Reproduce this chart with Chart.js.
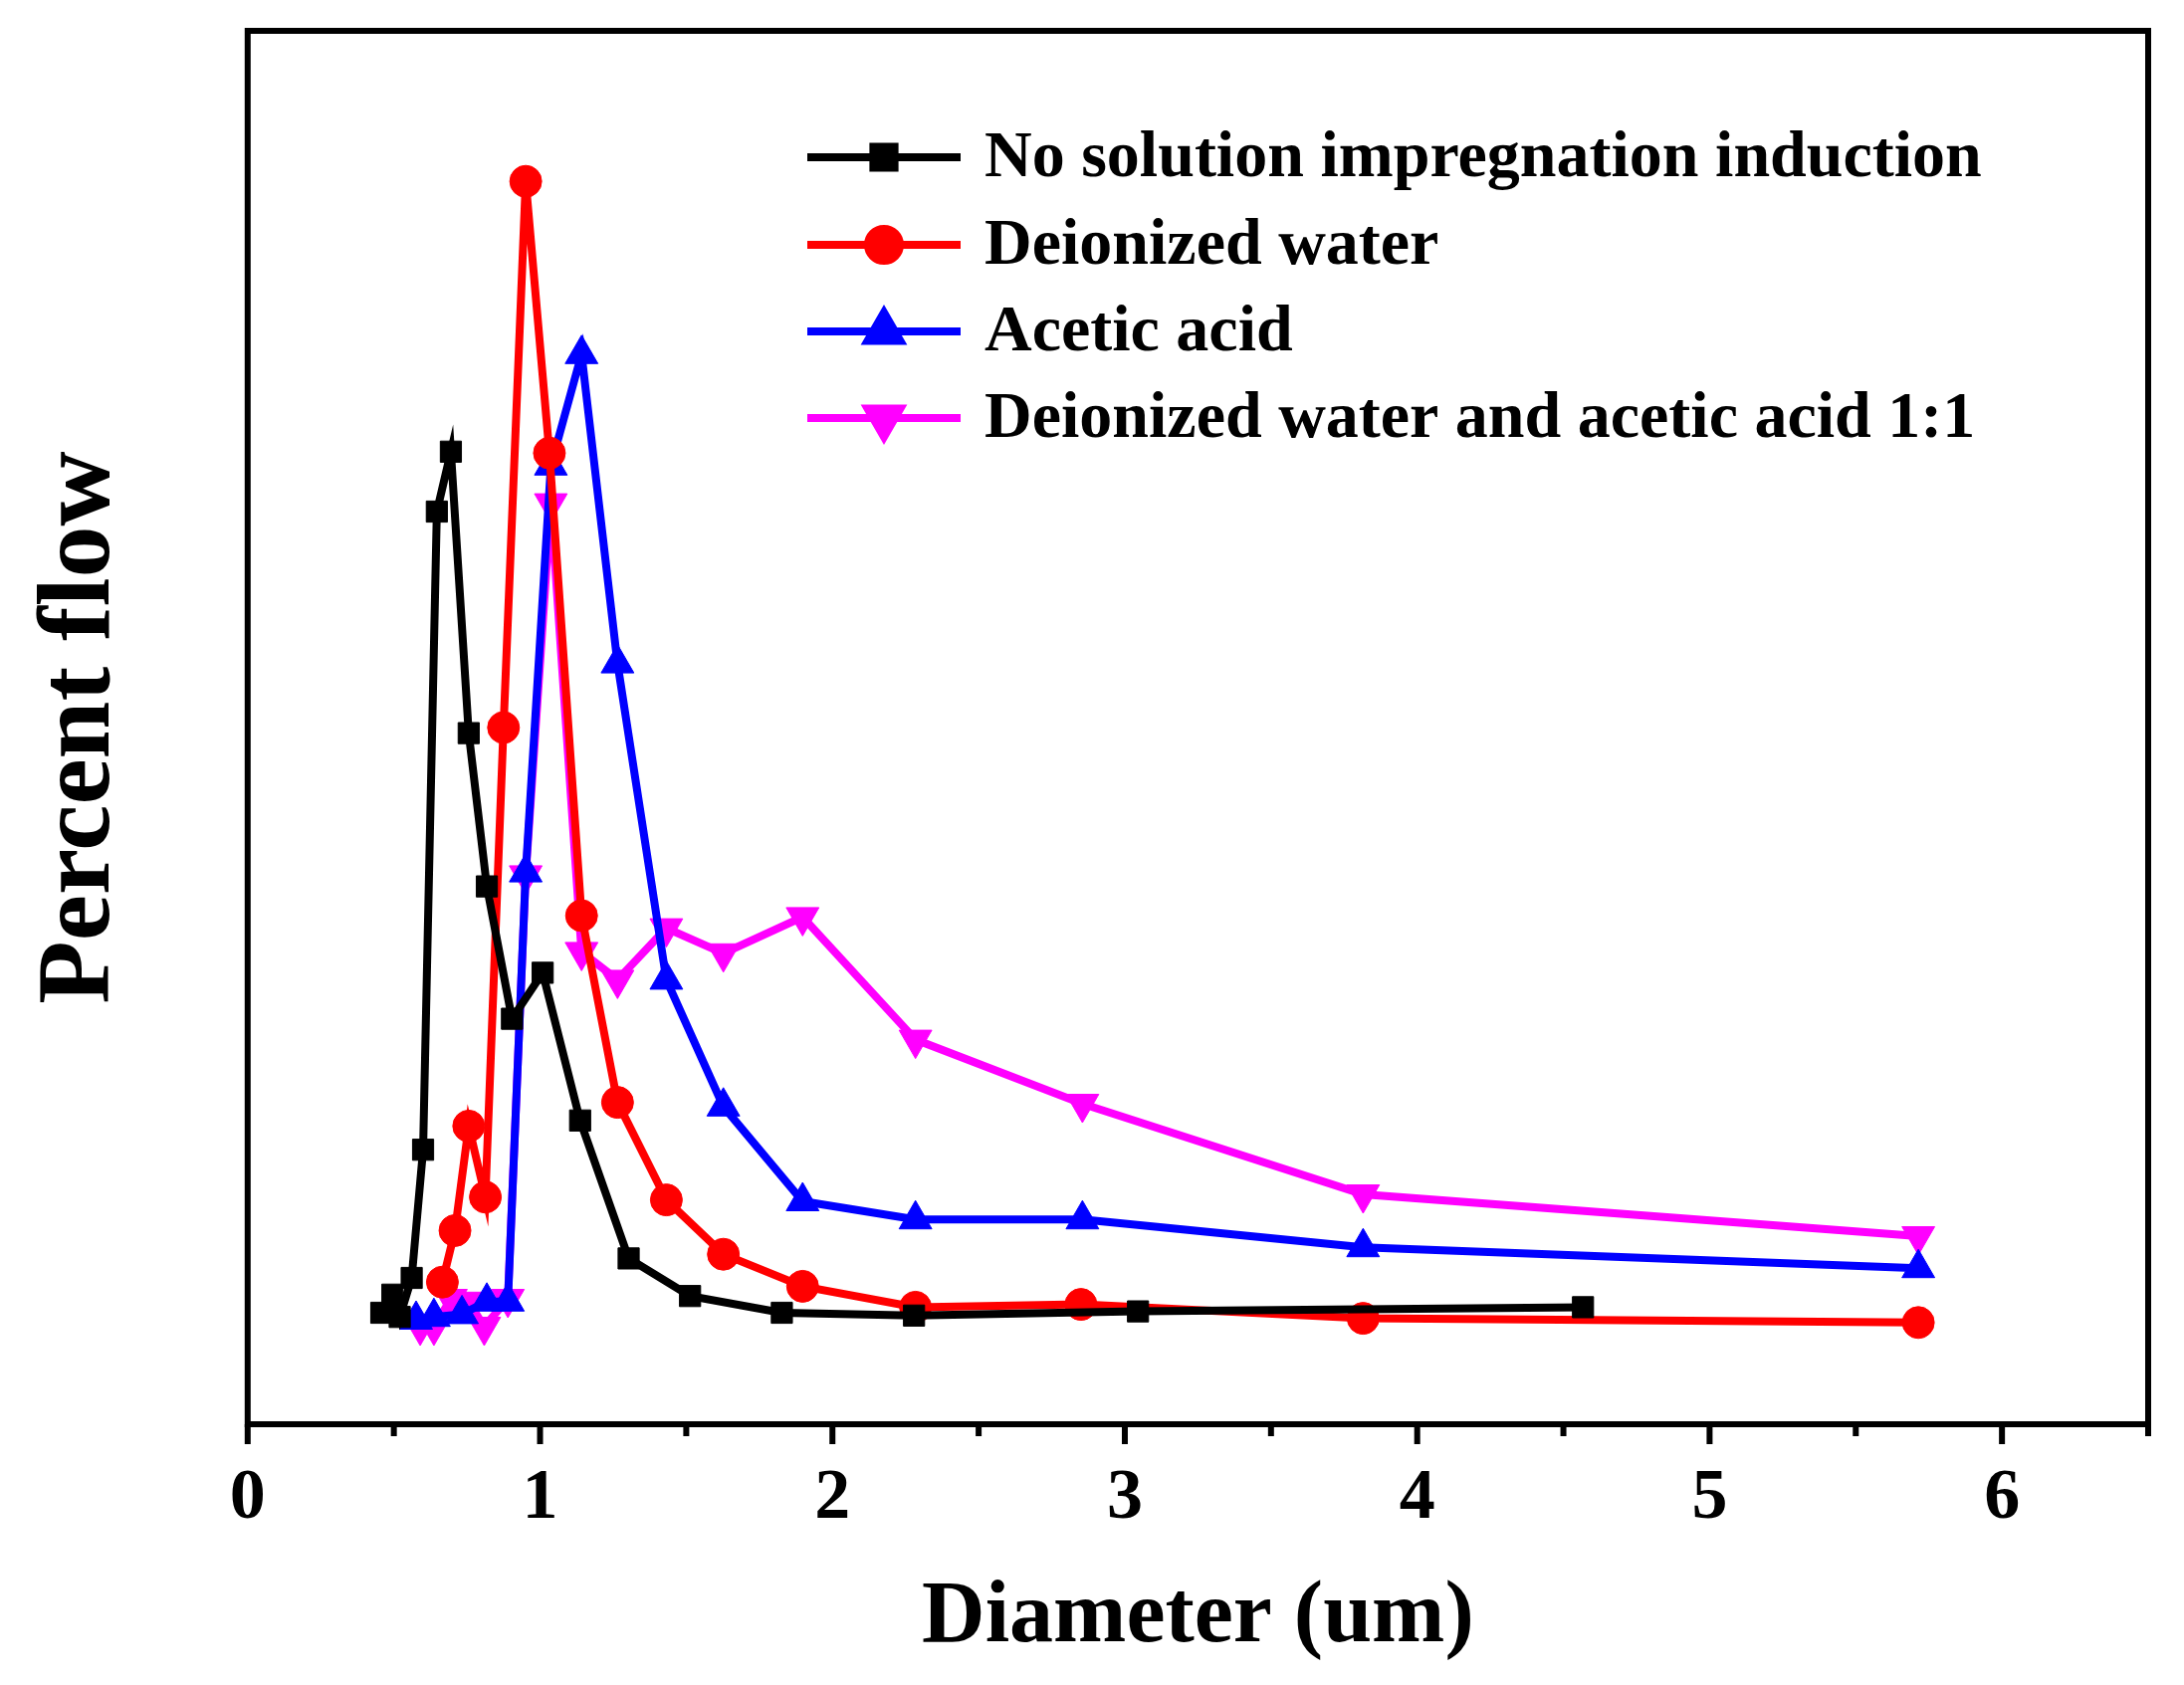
<!DOCTYPE html>
<html><head><meta charset="utf-8">
<script src="https://cdn.jsdelivr.net/npm/chart.js@4/dist/chart.umd.min.js"></script>
<style>html,body{margin:0;background:#fff}#wrap{width:2194px;height:1693px}</style>
</head><body><div id="wrap"><canvas id="c"></canvas></div>
<script>
// 読み取った値 (x: 直径 um, y: 相対値)
const seriesNames = ['No solution impregnation induction','Deionized water','Acetic acid','Deionized water and acetic acid 1:1'];
const blackX = [0.457,0.495,0.52,0.561,0.6,0.647,0.695,0.756,0.818,0.904,1.009,1.137,1.303,1.513,1.827,2.279,3.045,4.567];
const blackY = [8.0,9.3,7.7,10.5,19.7,65.5,69.8,49.6,38.6,29.1,32.4,21.8,11.9,9.2,8.0,7.8,8.1,8.4];
const redX = [0.666,0.709,0.756,0.813,0.875,0.951,1.032,1.142,1.265,1.432,1.627,1.898,2.284,2.85,3.815,5.714];
const redY = [10.2,13.9,21.4,16.3,50.0,89.2,69.7,36.5,23.1,16.1,12.2,9.9,8.4,8.6,7.6,7.3];
const blueX = [0.576,0.637,0.733,0.818,0.89,0.951,1.037,1.142,1.265,1.432,1.627,1.898,2.284,2.855,3.815,5.714];
const blueY = [7.5,7.7,7.9,8.8,8.8,39.6,68.8,76.8,54.6,31.9,22.8,16.0,14.7,14.7,12.7,11.2];
const pinkX = [0.59,0.637,0.695,0.756,0.809,0.89,0.951,1.037,1.142,1.265,1.432,1.627,1.898,2.284,2.855,3.815,5.714];
const pinkY = [7.0,7.0,9.0,8.8,7.0,9.0,39.4,66.1,33.9,31.9,35.6,33.8,36.4,27.6,23.0,16.5,13.5];
const xTicks = [0,1,2,3,4,5,6];

const toPts = (xs, ys) => xs.map((x, i) => ({x: x, y: ys[i]}));
const colors = ['#000000','#ff0000','#0000ff','#ff00ff'];
const shapes = ['rect','circle','triangle','triangle'];
const rots = [0,0,0,180];
const radii = [15,16,19,19];
const FONT = '"Liberation Serif","Times New Roman",serif';

const frame = {
  id: 'frame',
  afterDraw(chart) {
    const {ctx, chartArea: a, scales: {x}} = chart;
    ctx.save();
    ctx.strokeStyle = '#000';
    ctx.lineWidth = 6;
    ctx.strokeRect(a.left, a.top, a.right - a.left, a.bottom - a.top);
    for (let v = 0; v <= 6.5; v += 0.5) {
      const px = x.getPixelForValue(v);
      ctx.beginPath();
      ctx.moveTo(px, a.bottom);
      ctx.lineTo(px, a.bottom + (v % 1 === 0 ? 20 : 12));
      ctx.stroke();
    }
    // 凡例
    const rowY = [158, 246, 333, 420];
    ctx.font = 'bold 66px ' + FONT;
    ctx.textBaseline = 'middle';
    seriesNames.forEach((name, i) => {
      ctx.strokeStyle = colors[i];
      ctx.fillStyle = colors[i];
      ctx.lineWidth = 8;
      ctx.beginPath();
      ctx.moveTo(811, rowY[i]);
      ctx.lineTo(965, rowY[i]);
      ctx.stroke();
      Chart.helpers.drawPoint(ctx, {pointStyle: shapes[i], radius: radii[i], rotation: rots[i], borderWidth: 1}, 888, rowY[i]);
      ctx.fillStyle = '#000';
      ctx.fillText(name, 989, rowY[i] + 2);
    });
    ctx.restore();
  }
};

new Chart(document.getElementById('c'), {
  type: 'scatter',
  data: {
    datasets: [
      {data: toPts(blackX, blackY)},
      {data: toPts(redX, redY)},
      {data: toPts(blueX, blueY)},
      {data: toPts(pinkX, pinkY)}
    ].map((d, i) => Object.assign(d, {
      label: seriesNames[i],
      showLine: true,
      borderColor: colors[i],
      backgroundColor: colors[i],
      borderWidth: 8,
      pointStyle: shapes[i],
      pointRotation: rots[i],
      pointRadius: radii[i],
      pointBorderWidth: 1
    }))
  },
  options: {
    responsive: true,
    maintainAspectRatio: false,
    animation: false,
    layout: {padding: {top: 31, right: 36, left: 0, bottom: 0}},
    plugins: {legend: {display: false}, tooltip: {enabled: false}},
    scales: {
      x: {
        min: 0, max: 6.5,
        afterBuildTicks: s => { s.ticks = xTicks.map(v => ({value: v})); },
        grid: {display: false},
        border: {display: false},
        ticks: {color: '#000', font: {family: FONT, size: 72, weight: 'bold'}, padding: 24},
        title: {display: true, text: 'Diameter (um)', color: '#000', font: {family: FONT, size: 88, weight: 'bold'}, padding: {top: 0, bottom: 14}}
      },
      y: {
        min: 0, max: 100,
        grid: {display: false},
        border: {display: false},
        ticks: {display: false},
        title: {display: true, text: 'Percent flow', color: '#000', font: {family: FONT, size: 104, weight: 'bold'}, padding: {top: 20, bottom: 96}}
      }
    }
  },
  plugins: [frame]
});
</script>
</body></html>
